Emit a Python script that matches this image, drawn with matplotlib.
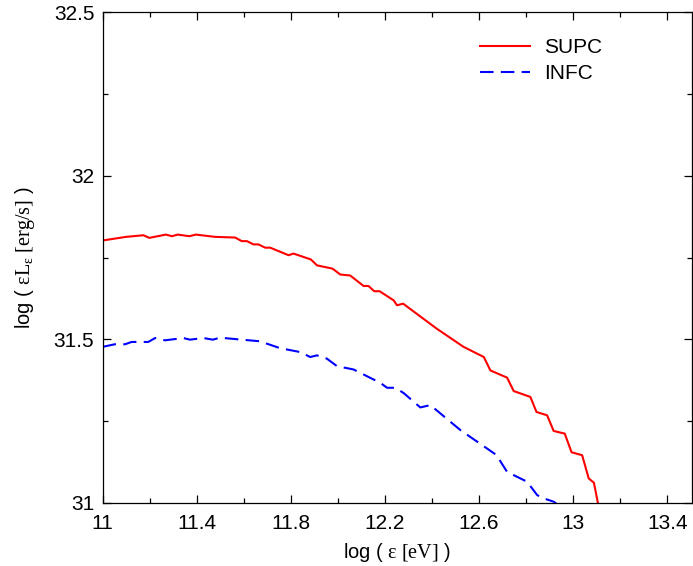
import matplotlib
matplotlib.use("Agg")
import matplotlib.pyplot as plt
from matplotlib.ticker import MultipleLocator

plt.rcParams['font.family'] = ['Liberation Sans', 'DejaVu Sans']
plt.rcParams['mathtext.fontset'] = 'custom'
plt.rcParams['mathtext.rm'] = 'Liberation Serif'
plt.rcParams['mathtext.it'] = 'Liberation Serif:italic'

supc_x = [11.0, 11.099, 11.173, 11.198, 11.269, 11.294, 11.319, 11.368, 11.396, 11.478,
          11.563, 11.591, 11.613, 11.641, 11.662, 11.691, 11.712, 11.790, 11.811, 11.885,
          11.911, 11.977, 12.010, 12.052, 12.109, 12.130, 12.154, 12.177, 12.237, 12.251,
          12.277, 12.421, 12.534, 12.620, 12.648, 12.719, 12.747, 12.818, 12.844, 12.889,
          12.917, 12.964, 12.993, 13.038, 13.066, 13.088, 13.105, 13.12]
supc_y = [31.802, 31.813, 31.818, 31.810, 31.820, 31.815, 31.820, 31.815, 31.820, 31.813,
          31.811, 31.800, 31.800, 31.790, 31.790, 31.780, 31.780, 31.757, 31.762, 31.744,
          31.726, 31.716, 31.698, 31.695, 31.663, 31.663, 31.647, 31.647, 31.619, 31.604,
          31.609, 31.532, 31.477, 31.446, 31.405, 31.383, 31.342, 31.324, 31.278, 31.268,
          31.220, 31.212, 31.155, 31.146, 31.075, 31.062, 31.000, 30.95]

infc_x = [11.0, 11.052, 11.095, 11.123, 11.194, 11.223, 11.265, 11.343, 11.371, 11.428,
          11.468, 11.499, 11.669, 11.705, 11.754, 11.783, 11.840, 11.882, 11.911, 11.953,
          11.996, 12.066, 12.180, 12.209, 12.244, 12.279, 12.350, 12.393, 12.520, 12.669,
          12.683, 12.719, 12.804, 12.847, 12.875, 12.917, 12.925, 12.95]
infc_y = [31.477, 31.485, 31.485, 31.492, 31.492, 31.504, 31.497, 31.504, 31.499, 31.504,
          31.499, 31.505, 31.494, 31.485, 31.473, 31.469, 31.461, 31.446, 31.451, 31.441,
          31.418, 31.408, 31.367, 31.352, 31.352, 31.336, 31.292, 31.299, 31.223, 31.149,
          31.136, 31.095, 31.065, 31.024, 31.014, 31.004, 31.000, 30.97]

xticks = [11, 11.4, 11.8, 12.2, 12.6, 13, 13.4]
xtick_labels = ['11', '11.4', '11.8', '12.2', '12.6', '13', '13.4']
yticks = [31, 31.5, 32, 32.5]
ytick_labels = ['31', '31.5', '32', '32.5']

fig = plt.figure(figsize=(6.93, 5.66), dpi=100)
ax = fig.add_axes([102.7/693, 63/566, (692-102.7)/693, (503-12)/566])

ax.plot(supc_x, supc_y, color='#ff0000', lw=1.5, label='SUPC')
ax.plot(infc_x, infc_y, color='#0000ff', lw=1.5, ls=(0, (6.5, 3.5)), label='INFC')

ax.set_xlim(11, 13.505)
ax.set_ylim(31, 32.5)
ax.xaxis.set_minor_locator(MultipleLocator(0.2))
ax.yaxis.set_minor_locator(MultipleLocator(0.25))
ax.set_xticks(xticks)
ax.set_xticklabels(xtick_labels)
ax.set_yticks(yticks)
ax.set_yticklabels(ytick_labels)
ax.tick_params(which='both', direction='in', top=True, right=True, labelsize=15)
ax.tick_params(axis='x', pad=8)
ax.tick_params(axis='y', pad=6)
ax.tick_params(which='major', length=6, width=0.9)
ax.tick_params(which='minor', length=3.5, width=0.9)
for s in ax.spines.values():
    s.set_linewidth(0.9)

ax.set_xlabel(r'log ( $\mathrm{ε\ [eV]}$ )', fontsize=14.5, labelpad=6)
ax.set_ylabel(r'log ( $\mathrm{εL_{ε}\ [erg/s]}$ )', fontsize=14.5, labelpad=12)

ax.legend(loc='upper right', bbox_to_anchor=(0.88, 0.985), frameon=False, fontsize=15,
          handlelength=2.4, handletextpad=0.7, labelspacing=0.35)

fig.savefig('out.png', dpi=100)
